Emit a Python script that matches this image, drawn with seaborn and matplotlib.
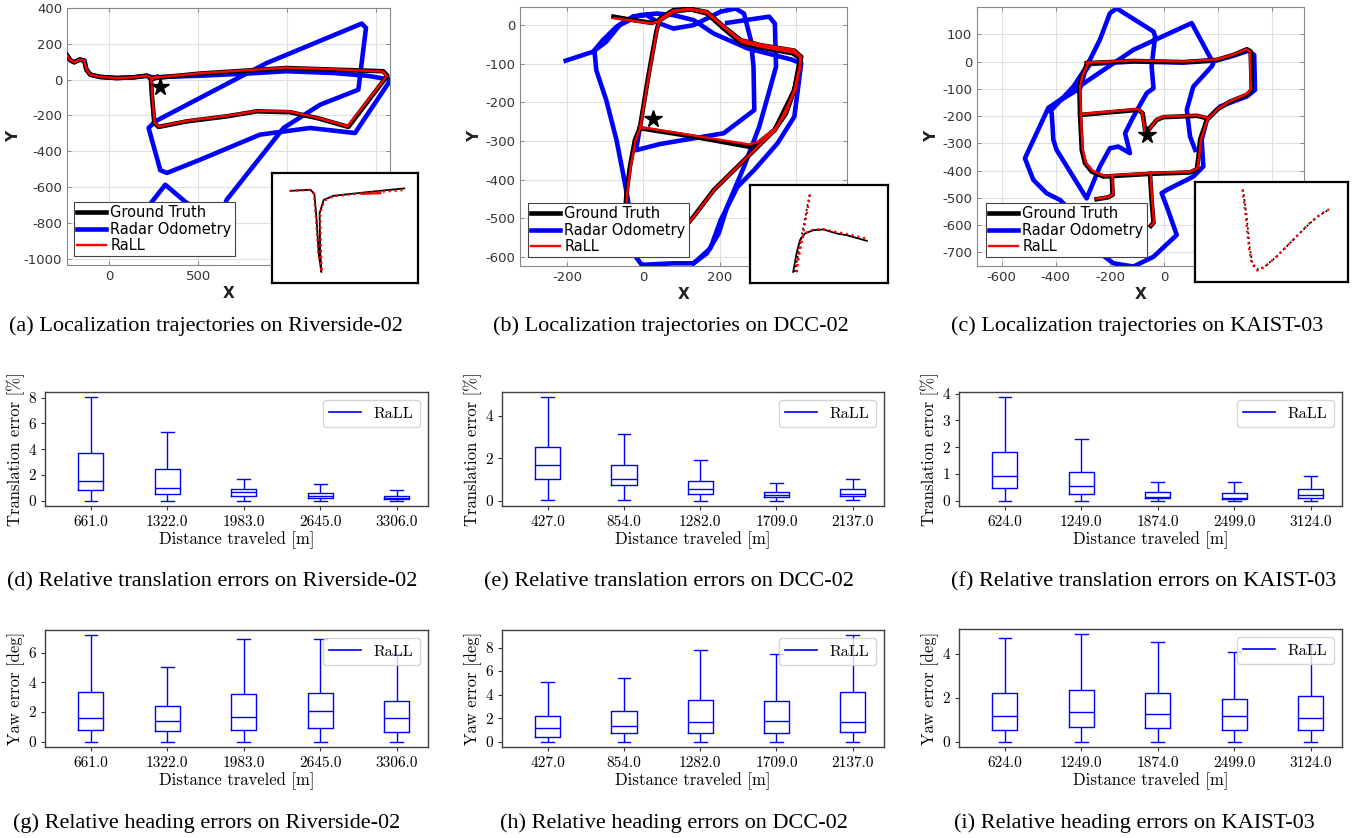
import numpy as np
import pandas as pd
import seaborn as sns
import matplotlib.pyplot as plt
from matplotlib.lines import Line2D

plt.rcParams["axes.unicode_minus"] = False

# ---------------- trajectories (metres) ----------------
# Riverside-02
gt_a_x = [-243, -219, -197, -167, -140, -129, -107, -51, 43, 137, 212, 234, 511, 998, 1261, 1541, 1564,
          1345, 1167, 1017, 830, 661, 436, 277, 253, 240, 234, 268]
gt_a_y = [143, 108, 97, 112, 106, 56, 28, 15, 9, 13, 22, 7, 34, 65, 56, 47, 22,
          -264, -214, -182, -177, -205, -233, -264, -242, -93, 0, 15]
rall_a_x = [-243, -219, -197, -167, -140, -129, -107, -51, 43, 137, 212, 236, 511, 998, 1261, 1540, 1560,
            1340, 1167, 1017, 830, 661, 436, 280, 255, 242, 236, 268]
rall_a_y = [143, 108, 97, 112, 106, 56, 28, 15, 9, 13, 22, 9, 36, 67, 58, 45, 20,
            -260, -212, -178, -175, -202, -230, -262, -240, -95, 2, 17]
ro_a_x = [-243, -219, -197, -167, -140, -129, -107, -51, 43, 137, 212, 240, 511, 774, 998, 1261, 1448, 1583,
          1382, 1129, 848, 511, 324, 287, 221, 258, 886, 1420, 1444, 1401, 1186, 980, 661, 624, 436, 315, 212, 99]
ro_a_y = [143, 108, 97, 112, 106, 56, 28, 15, 9, 13, 22, 13, 22, 34, 47, 37, 22, 0,
          -298, -270, -307, -447, -521, -506, -270, -233, 93, 313, 289, -56, -140, -270, -670, -763, -689, -587, -717, -857]
star_a = [283, -41]

# DCC-02
gt_b_x = [-9, 132, 277, 300, 344, 374, 396, 410, 414, 396, 308, 256, 211, 167, 123, 79, 44, 40, 35, 13,
          -9, -22, -35, -44, -48, -44, 9, 79, 132, 185, 256, 300, 344, 396, 407, 410, 392, 308, 256, 211,
          167, 123, 79, 44, 22, -26, -78]
gt_b_y = [-267, -289, -315, -306, -272, -229, -168, -108, -82, -66, -52, -39, -4, 34, 42, 39, 17, 4, -13, -134,
          -267, -298, -367, -436, -496, -557, -574, -557, -496, -427, -358, -315, -272, -168, -108, -86, -73, -58, -46, -9,
          30, 41, 35, 13, 6, 13, 22]
rall_b_x = [-9, 132, 277, 300, 344, 374, 396, 410, 412, 394, 306, 254, 209, 165, 121, 79, 44, 40, 36, 14,
            -8, -20, -33, -42, -46, -42, 11, 81, 134, 188, 259, 303, 348, 400, 411, 414, 394, 310, 258, 213,
            168, 123, 79, 44, 22, -26, -78]
rall_b_y = [-264, -286, -309, -303, -270, -228, -168, -108, -80, -64, -50, -37, -2, 36, 42, 38, 16, 3, -13, -134,
            -267, -298, -367, -436, -496, -557, -574, -557, -494, -424, -355, -312, -270, -166, -106, -84, -71, -56, -44, -7,
            31, 41, 34, 11, 4, 11, 18]
ro_b1_x = [-9, -19, 44, 211, 291, 289, 282, 264, 242, 203, 132, 79, 44, 9, -26, -70, -106, -128, -123, -97,
           -70, -53, -40, -26, -4, 79, 132, 176, 203, 247, 291, 352, 396, 414, 388, 273, 185, 132, 79, 35,
           -9, -62, -97, -132, -203]
ro_b1_y = [-267, -324, -308, -280, -220, -108, -39, 30, 43, 35, 0, -9, 4, 26, 23, -4, -39, -65, -117, -194,
           -298, -384, -453, -591, -621, -617, -617, -578, -505, -419, -375, -306, -237, -99, -89, -60, -22, 13, 26, 30,
           26, 0, -43, -69, -92]
ro_b2_x = [220, 330, 345, 348, 326, 304, 264, 220, 198, 167, 132]
ro_b2_y = [6, 22, 4, -108, -186, -263, -367, -470, -539, -591, -617]
star_b = [26, -243]

# KAIST-03
gt_c1_x = [-286, -113, 71, 195, 256, 306, 320, 324, 306, 244, 195, 158, 133, 127, 121, 96, -52, -224, -267,
           -292, -304, -310, -313, -304, -288, -280]
gt_c1_y = [-6, 2, -2, 6, 24, 45, 37, -104, -122, -147, -177, -214, -287, -349, -395, -407, -412, -422, -404,
           -373, -324, -202, -92, -55, -18, -4]
gt_c2_x = [-310, -95, -79, -70, -64, -58, -27, -2, 121, 158]
gt_c2_y = [-196, -177, -190, -251, -263, -251, -214, -204, -199, -208]
gt_c3_x = [-193, -190, -206, -249]
gt_c3_y = [-422, -489, -498, -505]
gt_c4_x = [-52, -46, -39, -49]
gt_c4_y = [-412, -508, -591, -603]
rall_c1_x = [-284, -113, 71, 195, 254, 304, 317, 321, 303, 244, 197, 161, 136, 130, 123, 97, -52, -222, -264,
             -289, -301, -307, -310, -302, -286, -278]
rall_c1_y = [-4, 4, 0, 8, 25, 45, 37, -102, -120, -145, -175, -212, -286, -347, -392, -404, -409, -419, -401,
             -371, -322, -202, -92, -55, -18, -2]
rall_c2_x = [-308, -95, -81, -72, -64, -56, -27, -2, 121, 158]
rall_c2_y = [-193, -174, -188, -250, -262, -250, -212, -202, -197, -206]
rall_c3_x = [-191, -188, -206, -249]
rall_c3_y = [-419, -487, -496, -503]
rall_c4_x = [-50, -44, -37, -47]
rall_c4_y = [-409, -506, -589, -601]
ro_c1_x = [-237, -187, -113, -39, 47, 10, -9, 10, 108, 145, 139, 158, 207, 306, 336, 333, 312, 256, 195, 71,
           -113, -273, -292, -310, -360, -428, -514, -483, -434, -384, -310, -237]
ro_c1_y = [-703, -740, -752, -716, -636, -532, -483, -471, -422, -385, -287, -214, -165, -128, -104, 24, 40, 21, 4, -4,
           0, -9, -37, -98, -128, -171, -355, -434, -483, -508, -582, -703]
ro_c2_x = [115, 96, 84, 108, 176, 182, 102, -113, -286, -428, -415, -409, -397, -286, -237, -200, -169, -126, -144, -113,
           -64, -39, -46, -33, -39, -175, -200, -237, -286, -335, -415]
ro_c2_y = [-324, -275, -177, -92, -18, -6, 141, 43, -73, -171, -190, -287, -324, -502, -385, -318, -312, -336, -263, -202,
           -116, -98, -18, 92, 110, 195, 177, 80, -18, -92, -177]
star_c = [-64, -269]

# zoomed insets (normalised local coordinates)
ins_a_gt_x = [0.126, 0.263, 0.29, 0.304, 0.32, 0.338, 0.33, 0.326, 0.354, 0.422, 0.651, 0.906]
ins_a_gt_y = [0.838, 0.848, 0.811, 0.604, 0.268, 0.10, 0.30, 0.634, 0.756, 0.793, 0.826, 0.86]
ins_a_rall_x = [0.126, 0.26, 0.288, 0.30, 0.318, 0.34, 0.335, 0.33, 0.358, 0.425, 0.651, 0.906]
ins_a_rall_y = [0.836, 0.846, 0.81, 0.60, 0.27, 0.10, 0.30, 0.63, 0.75, 0.79, 0.82, 0.845]
ins_a_rall2_x = [0.616, 0.742]
ins_a_rall2_y = [0.81, 0.817]
ins_b_gt_x = [0.313, 0.337, 0.362, 0.398, 0.459, 0.532, 0.629, 0.701, 0.847]
ins_b_gt_y = [0.113, 0.30, 0.437, 0.505, 0.539, 0.546, 0.505, 0.488, 0.43]
ins_b_gt2_x = [0.325, 0.434]
ins_b_gt2_y = [0.113, 0.922]
ins_b_rall_x = [0.34, 0.35, 0.37, 0.40, 0.46, 0.53, 0.63, 0.70, 0.86]
ins_b_rall_y = [0.11, 0.30, 0.44, 0.51, 0.545, 0.55, 0.52, 0.50, 0.45]
ins_b_rall2_x = [0.335, 0.44]
ins_b_rall2_y = [0.113, 0.93]
ins_c_gt_x = [0.314, 0.336, 0.357, 0.375, 0.412, 0.455, 0.532, 0.64, 0.749, 0.815, 0.876]
ins_c_gt_y = [0.924, 0.684, 0.352, 0.186, 0.126, 0.153, 0.252, 0.419, 0.585, 0.668, 0.724]
ins_c_rall_x = [0.31, 0.33, 0.352, 0.372, 0.405, 0.45, 0.53, 0.64, 0.75, 0.815, 0.876]
ins_c_rall_y = [0.924, 0.684, 0.352, 0.18, 0.115, 0.145, 0.25, 0.42, 0.59, 0.672, 0.728]

# ---------------- relative errors (five-number summaries) ----------------
dist_riv = ["661.0", "1322.0", "1983.0", "2645.0", "3306.0"]
dist_dcc = ["427.0", "854.0", "1282.0", "1709.0", "2137.0"]
dist_kaist = ["624.0", "1249.0", "1874.0", "2499.0", "3124.0"]

trans_riv_lo = [0.0, 0.02, 0.02, 0.0, 0.0]
trans_riv_q1 = [0.83, 0.49, 0.34, 0.20, 0.13]
trans_riv_med = [1.50, 1.03, 0.65, 0.39, 0.19]
trans_riv_q3 = [3.73, 2.45, 0.88, 0.60, 0.40]
trans_riv_hi = [8.03, 5.33, 1.67, 1.29, 0.83]

trans_dcc_lo = [0.05, 0.02, 0.0, 0.0, 0.02]
trans_dcc_q1 = [1.03, 0.73, 0.33, 0.16, 0.21]
trans_dcc_med = [1.67, 1.01, 0.56, 0.28, 0.34]
trans_dcc_q3 = [2.54, 1.68, 0.95, 0.42, 0.55]
trans_dcc_hi = [4.86, 3.15, 1.90, 0.84, 1.01]

trans_kaist_lo = [0.0, 0.0, 0.0, 0.0, 0.0]
trans_kaist_q1 = [0.46, 0.26, 0.10, 0.06, 0.10]
trans_kaist_med = [0.94, 0.54, 0.16, 0.12, 0.20]
trans_kaist_q3 = [1.84, 1.07, 0.34, 0.31, 0.43]
trans_kaist_hi = [3.87, 2.29, 0.72, 0.72, 0.93]

yaw_riv_lo = [0.0, 0.0, 0.0, 0.0, 0.0]
yaw_riv_q1 = [0.76, 0.69, 0.76, 0.90, 0.63]
yaw_riv_med = [1.61, 1.39, 1.66, 2.06, 1.61]
yaw_riv_q3 = [3.36, 2.42, 3.22, 3.31, 2.71]
yaw_riv_hi = [7.16, 5.01, 6.92, 6.92, 5.90]

yaw_dcc_lo = [0.0, 0.0, 0.0, 0.0, 0.0]
yaw_dcc_q1 = [0.40, 0.71, 0.71, 0.76, 0.85]
yaw_dcc_med = [1.13, 1.33, 1.69, 1.72, 1.69]
yaw_dcc_q3 = [2.20, 2.60, 3.53, 3.47, 4.21]
yaw_dcc_hi = [5.03, 5.45, 7.77, 7.46, 9.04]

yaw_kaist_lo = [0.0, 0.0, 0.0, 0.0, 0.0]
yaw_kaist_q1 = [0.53, 0.66, 0.63, 0.52, 0.52]
yaw_kaist_med = [1.18, 1.36, 1.24, 1.15, 1.10]
yaw_kaist_q3 = [2.21, 2.34, 2.20, 1.94, 2.06]
yaw_kaist_hi = [4.72, 4.89, 4.53, 4.09, 4.43]

captions = ["(a) Localization trajectories on Riverside-02", "(b) Localization trajectories on DCC-02",
            "(c) Localization trajectories on KAIST-03", "(d) Relative translation errors on Riverside-02",
            "(e) Relative translation errors on DCC-02", "(f) Relative translation errors on KAIST-03",
            "(g) Relative heading errors on Riverside-02", "(h) Relative heading errors on DCC-02",
            "(i) Relative heading errors on KAIST-03"]

W, H = 1364, 838
fig = plt.figure(figsize=(W / 100, H / 100), dpi=100, facecolor="w")


def px_axes(x0, y0, x1, y1):
    return fig.add_axes([x0 / W, 1 - y1 / H, (x1 - x0) / W, (y1 - y0) / H])


def line(ax, x, y, color, lw, ls="-", z=2):
    sns.lineplot(x=x, y=y, ax=ax, color=color, linewidth=lw, linestyle=ls, sort=False,
                 estimator=None, legend=False, zorder=z)


def traj_panel(box, ins_box, ro, gt, rall, star, xlim, ylim, xticks, yticks, leg_xy, inset):
    ax = px_axes(*box)
    for x, y in ro:
        line(ax, x, y, "#0000ff", 3.3, z=2)
    for x, y in gt:
        line(ax, x, y, "k", 3.3, z=3)
    for x, y in rall:
        line(ax, x, y, "#ff0000", 1.7, z=4)
    ax.plot(star[0], star[1], marker="*", color="k", ms=13, zorder=6, ls="none")
    ax.set_xlim(xlim)
    ax.set_ylim(ylim)
    ax.set_xticks(xticks)
    ax.set_yticks(yticks)
    ax.grid(True, color="#e0e0e0", lw=0.8)
    ax.set_axisbelow(True)
    ax.tick_params(direction="in", top=True, right=True, length=3, width=0.6, color="#777777",
                   labelcolor="#333333", labelsize=9.5, labelfontfamily="DejaVu Sans")
    for s in ax.spines.values():
        s.set_color("#888888")
        s.set_linewidth(0.8)
    ax.set_xlabel("X", fontweight="bold", fontsize=11, family="DejaVu Sans", color="#222222", labelpad=2)
    ax.set_ylabel("Y", fontweight="bold", fontsize=11, family="DejaVu Sans", color="#222222", labelpad=2)
    handles = [Line2D([], [], color="k", lw=3.3), Line2D([], [], color="#0000ff", lw=3.3),
               Line2D([], [], color="#ff0000", lw=1.7)]
    x0, y0, x1, y1 = box
    leg = ax.legend(handles, ["Ground Truth", "Radar Odometry", "RaLL"], loc="lower left",
                    bbox_to_anchor=((leg_xy[0] - x0) / (x1 - x0), (y1 - leg_xy[1]) / (y1 - y0)),
                    borderaxespad=0, fancybox=False, framealpha=1, edgecolor="#444444",
                    prop={"family": "DejaVu Sans", "size": 10.5}, handlelength=2.0,
                    borderpad=0.2, labelspacing=0.1, handletextpad=0.3)
    leg.get_frame().set_linewidth(0.8)
    leg.set_zorder(7)

    axi = px_axes(*ins_box)
    for x, y, c, lw, ls in inset:
        line(axi, x, y, c, lw, ls=ls)
    axi.set_xlim(0, 1)
    axi.set_ylim(0, 1)
    axi.set_xticks([])
    axi.set_yticks([])
    axi.set_xlabel("")
    axi.set_ylabel("")
    for s in axi.spines.values():
        s.set_color("k")
        s.set_linewidth(1.6)
    return ax


traj_panel((67, 8, 390, 265), (272, 173, 418, 283),
           [(ro_a_x, ro_a_y)], [(gt_a_x, gt_a_y)], [(rall_a_x, rall_a_y)], star_a,
           (-238, 1579), (-1035, 400), [0, 500, 1000, 1500], list(range(-1000, 401, 200)), (74, 256),
           [(ins_a_gt_x, ins_a_gt_y, "k", 1.3, "-"), (ins_a_rall_x, ins_a_rall_y, "#ff0000", 1.6, ":"),
            (ins_a_rall2_x, ins_a_rall2_y, "#ff0000", 1.6, "-")])

traj_panel((520, 7, 847, 266), (750, 185, 888, 283),
           [(ro_b1_x, ro_b1_y), (ro_b2_x, ro_b2_y)], [(gt_b_x, gt_b_y)], [(rall_b_x, rall_b_y)], star_b,
           (-323, 534), (-624, 47), [-200, 0, 200, 400], list(range(-600, 1, 100)), (528, 257),
           [(ins_b_gt_x, ins_b_gt_y, "k", 1.3, "-"), (ins_b_gt2_x, ins_b_gt2_y, "k", 1.3, ":"),
            (ins_b_rall_x, ins_b_rall_y, "#ff0000", 1.6, ":"), (ins_b_rall2_x, ins_b_rall2_y, "#ff0000", 1.6, ":")])

traj_panel((977, 7, 1304, 266), (1195, 182, 1348, 282),
           [(ro_c1_x, ro_c1_y), (ro_c2_x, ro_c2_y)],
           [(gt_c1_x, gt_c1_y), (gt_c2_x, gt_c2_y), (gt_c3_x, gt_c3_y), (gt_c4_x, gt_c4_y)],
           [(rall_c1_x, rall_c1_y), (rall_c2_x, rall_c2_y), (rall_c3_x, rall_c3_y), (rall_c4_x, rall_c4_y)],
           star_c, (-691, 517), (-750, 200), [-600, -400, -200, 0, 200, 400], list(range(-700, 101, 100)),
           (986, 257),
           [(ins_c_gt_x, ins_c_gt_y, "k", 1.3, ":"), (ins_c_rall_x, ins_c_rall_y, "#ff0000", 1.6, ":")])

CM = ["cmr10", "DejaVu Serif"]


def box_panel(box, dists, lo, q1, med, q3, hi, ylabel, yticks):
    ax = px_axes(*box)
    df = pd.DataFrame({"dist": np.repeat(dists, 5),
                       "err": np.column_stack([lo, q1, med, q3, hi]).ravel()})
    sns.boxplot(data=df, x="dist", y="err", ax=ax, color="#0000ff", fill=False, width=0.33,
                whis=(0, 100), linewidth=1.0, showfliers=False)
    ax.set_xlim(-0.6, 4.41)
    ax.set_yticks(yticks, labels=[str(t) for t in yticks])
    ax.tick_params(labelsize=11, labelfontfamily=CM, color="#333333", length=3)
    for s in ax.spines.values():
        s.set_color("#404040")
        s.set_linewidth(1.0)
    ax.set_xlabel("Distance traveled [m]", family=CM, fontsize=12, labelpad=2)
    ax.set_ylabel(ylabel, family=CM, fontsize=12, labelpad=2)
    ax.legend([Line2D([], [], color="#0000ff", lw=1.2)], ["RaLL"], loc="upper right",
              prop={"family": CM, "size": 11.5})
    return ax


box_panel((45, 392, 428, 506), dist_riv, trans_riv_lo, trans_riv_q1, trans_riv_med, trans_riv_q3, trans_riv_hi,
          "Translation error [%]", [0, 2, 4, 6, 8])
box_panel((502, 392, 884, 506), dist_dcc, trans_dcc_lo, trans_dcc_q1, trans_dcc_med, trans_dcc_q3, trans_dcc_hi,
          "Translation error [%]", [0, 2, 4])
box_panel((959, 392, 1342, 506), dist_kaist, trans_kaist_lo, trans_kaist_q1, trans_kaist_med, trans_kaist_q3,
          trans_kaist_hi, "Translation error [%]", [0, 1, 2, 3, 4])
box_panel((45, 630, 428, 747), dist_riv, yaw_riv_lo, yaw_riv_q1, yaw_riv_med, yaw_riv_q3, yaw_riv_hi,
          "Yaw error [deg]", [0, 2, 4, 6])
box_panel((502, 630, 884, 747), dist_dcc, yaw_dcc_lo, yaw_dcc_q1, yaw_dcc_med, yaw_dcc_q3, yaw_dcc_hi,
          "Yaw error [deg]", [0, 2, 4, 6, 8])
box_panel((959, 629, 1342, 747), dist_kaist, yaw_kaist_lo, yaw_kaist_q1, yaw_kaist_med, yaw_kaist_q3, yaw_kaist_hi,
          "Yaw error [deg]", [0, 2, 4])

cap_pos = [(206, 326), (671, 326), (1137, 326), (212, 582), (669, 582), (1144, 582),
           (207, 823), (674, 823), (1134, 823)]
for (cx, cy), txt in zip(cap_pos, captions):
    fig.text(cx / W, 1 - cy / H, txt, ha="center", va="center", family="Liberation Serif", fontsize=16)

fig.savefig("out.png", dpi=100, facecolor="w")
